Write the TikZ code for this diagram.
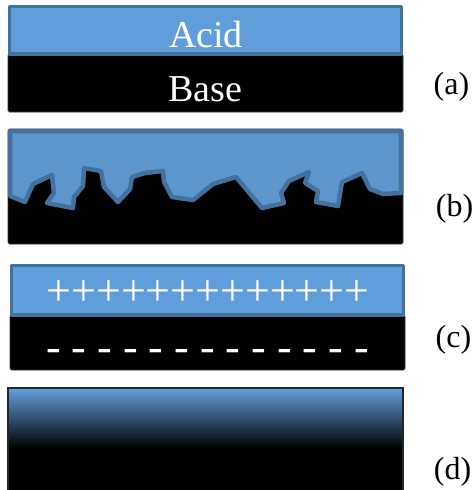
\documentclass[tikz,border=0pt]{standalone}
\usepackage{fontspec}
\setmainfont{Liberation Serif}
\newfontfamily\timesf{Liberation Serif}
\definecolor{acidblue}{RGB}{96,158,219}
\definecolor{acidblueb}{RGB}{92,150,204}
\definecolor{rimblue}{RGB}{67,114,158}
\tikzset{
  acidfill/.style={fill=acidblue, draw=rimblue, line width=3.5pt, line join=round},
  basefill/.style={fill=black, draw=black!80, line width=0.6pt, rounded corners=1.5pt},
  bigtext/.style={text=white, inner sep=0pt, anchor=base, font=\timesf\fontsize{38}{40}\selectfont},
  chargetext/.style={text=white, inner sep=0pt, anchor=base, font=\timesf\fontsize{44}{46}\selectfont},
  paneltag/.style={inner sep=0pt, anchor=base, font=\timesf\fontsize{32}{34}\selectfont}
}
\begin{document}
\begin{tikzpicture}[x=1pt,y=-1pt]
\useasboundingbox (0,0) rectangle (475,490);
% (a)
\draw[basefill] (8,54) rectangle (403,112);
\draw[acidfill] (9.5,6.5) rectangle (401.5,54);
\node[bigtext] (acid) at (206,47) {Acid};
\node[bigtext] (base) at (205,101) {Base};
\node[paneltag] (la) at (451.5,94) {(a)};
% (b)
\draw[basefill] (8,129) rectangle (403,244);
\draw[acidfill, fill=acidblueb, line width=4.5pt] (10,131) -- (401,131) -- (401,193) -- (383,194) -- (370,189) -- (362,173) -- (342,182) -- (338,206) -- (316,202) -- (318,191) -- (305,183) -- (309,172) -- (289,181) -- (281,193) -- (284,203) -- (262,208) -- (236,177) -- (213,184) -- (193,200) -- (172,197) -- (164,182) -- (163,171) -- (145,173) -- (132,177) -- (130,189) -- (118,202) -- (104,187) -- (101,171) -- (84,168) -- (83,186) -- (74,197) -- (73,208) -- (47,203) -- (54,193) -- (52,175) -- (33,184) -- (25,202) -- (10,196) -- cycle;
\node[paneltag] (lb) at (454.5,216) {(b)};
% (c)
\draw[basefill] (10,315) rectangle (405,370);
\draw[acidfill] (11.5,265.5) rectangle (403.5,315);
\node[chargetext] (plus) at (208,305) {+++++++++++++};
\node[chargetext, font=\timesf\fontsize{44}{46}\selectfont\itshape] (minus) at (207.5,361) {- - - - - - - - - - - - -};
\node[paneltag] (lc) at (453.5,347) {(c)};
% (d)
\fill[black] (8,448) rectangle (403,490);
\shade[top color=acidblue, bottom color=black] (8,389) rectangle (403,448.5);
\draw[black!85, line width=1.8pt] (8,388) rectangle (403,492);
\node[paneltag] (ld) at (452.5,479) {(d)};
\end{tikzpicture}
\end{document}
